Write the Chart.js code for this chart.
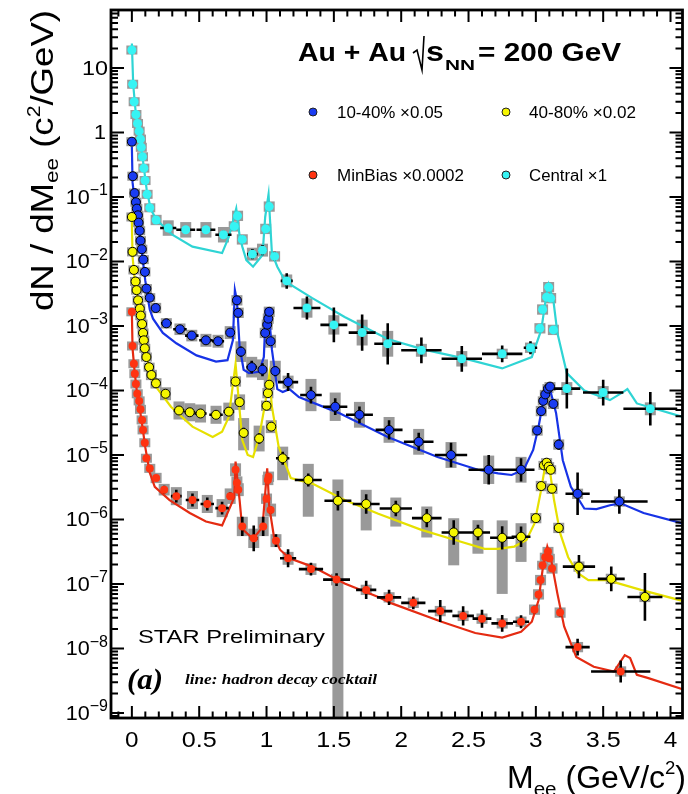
<!DOCTYPE html>
<html>
<head>
<meta charset="utf-8">
<title>STAR Au+Au dielectron mass spectra</title>
<script src="https://cdn.jsdelivr.net/npm/chart.js@4.4.1/dist/chart.umd.min.js"></script>
<style>
  html, body { margin: 0; padding: 0; background: #fff; }
  canvas { display: block; }
</style>
</head>
<body>
<canvas id="massChart" width="688" height="794"></canvas>
<script>
// ---- axis ticks ----
const xTickValues = [0, 0.5, 1, 1.5, 2, 2.5, 3, 3.5, 4];
const yDecades = [-9, -8, -7, -6, -5, -4, -3, -2, -1, 0, 1];

// ---- Central x1 (cyan) ----
const centralMass = [0.000, 0.006, 0.017, 0.030, 0.042, 0.054, 0.064, 0.070, 0.079, 0.089, 0.098, 0.113, 0.133,
  0.180, 0.270, 0.400, 0.550, 0.680, 0.760, 0.785, 0.820, 0.895, 0.970, 0.994, 1.020, 1.060, 1.150,
  1.300, 1.500, 1.710, 1.900, 2.150, 2.450, 2.750, 2.960, 3.030, 3.050, 3.080, 3.095, 3.110, 3.130,
  3.230, 3.500, 3.850];
const centralYield = [19, 5.6, 3.0, 1.9, 1.38, 1.05, 0.79, 0.59, 0.42, 0.28, 0.18, 0.11, 0.068,
  0.044, 0.033, 0.031, 0.031, 0.026, 0.035, 0.051, 0.022, 0.013, 0.015, 0.032, 0.071, 0.012, 0.005,
  0.0019, 0.00104, 0.00079, 0.00053, 0.00042, 0.00031, 0.00037, 0.00046, 0.00092, 0.0018, 0.0028, 0.0040, 0.0027, 0.00087,
  0.000107, 0.000093, 0.000052];
const centralMassErr = [0.003, 0.003, 0.004, 0.004, 0.004, 0.004, 0.004, 0.004, 0.004, 0.004, 0.005, 0.007, 0.01,
  0.02, 0.06, 0.07, 0.07, 0.06, 0.01, 0.01, 0.02, 0.04, 0.03, 0.01, 0.01, 0.02, 0.045,
  0.1, 0.1, 0.1, 0.1, 0.15, 0.15, 0.15, 0.05, 0.01, 0.01, 0.01, 0.01, 0.01, 0.01,
  0.1, 0.15, 0.2];
const centralStat = [0.02, 0.02, 0.02, 0.02, 0.02, 0.02, 0.02, 0.02, 0.02, 0.02, 0.02, 0.02, 0.02,
  0.03, 0.05, 0.06, 0.06, 0.06, 0.05, 0.05, 0.06, 0.08, 0.08, 0.05, 0.05, 0.07, 0.12,
  0.18, 0.27, 0.28, 0.32, 0.2, 0.2, 0.13, 0.1, 0.06, 0.06, 0.06, 0.06, 0.06, 0.06,
  0.31, 0.2, 0.26];
const centralSys = [0.07, 0.07, 0.07, 0.07, 0.07, 0.07, 0.07, 0.07, 0.07, 0.07, 0.07, 0.07, 0.07,
  0.08, 0.12, 0.12, 0.12, 0.12, 0.08, 0.08, 0.08, 0.1, 0.1, 0.08, 0.08, 0.08, 0.1,
  0.15, 0.15, 0.2, 0.2, 0.1, 0.12, 0.08, 0.08, 0.08, 0.08, 0.08, 0.08, 0.08, 0.08,
  0.1, 0.1, 0.1];
const centralCocktailMass = [0.0, 0.01, 0.03, 0.05, 0.08, 0.11, 0.14, 0.18, 0.30, 0.45,
  0.67, 0.72, 0.775, 0.80, 0.82, 0.85, 0.90, 0.97, 0.99, 1.015,
  1.04, 1.08, 1.14, 1.34, 1.58, 1.90, 2.17, 2.45, 2.75, 2.97,
  3.04, 3.08, 3.095, 3.13, 3.16, 3.23, 3.36, 3.55, 3.65, 3.68,
  3.71, 3.75, 4.09];
const centralCocktailYield = [24, 5.5, 1.9, 1.1, 0.4, 0.13, 0.065, 0.045, 0.026, 0.017,
  0.0135, 0.024, 0.066, 0.025, 0.017, 0.0105, 0.0083, 0.0126, 0.049, 0.11,
  0.0135, 0.0083, 0.0049, 0.0027, 0.00138, 0.00063, 0.00043, 0.00032, 0.00022, 0.00033,
  0.00087, 0.0032, 0.0044, 0.0025, 0.00078, 0.000186, 0.0001, 0.000071, 0.000095, 0.000105,
  0.000085, 0.000063, 0.000039];

// ---- 10-40% x0.05 (blue) ----
const midMass = [0.000, 0.007, 0.020, 0.030, 0.037, 0.045, 0.050, 0.058, 0.064, 0.074,
  0.085, 0.097, 0.108, 0.133, 0.177, 0.256, 0.357, 0.445, 0.550, 0.640,
  0.730, 0.780, 0.790, 0.810, 0.890, 0.970, 0.990, 1.005, 1.013, 1.020,
  1.030, 1.065, 1.160, 1.330, 1.510, 1.690, 1.910, 2.130, 2.370, 2.650,
  2.890, 3.010, 3.040, 3.055, 3.070, 3.090, 3.105, 3.130, 3.170, 3.310, 3.620];
const midYield = [0.72, 0.21, 0.115, 0.083, 0.066, 0.052, 0.040, 0.030, 0.021, 0.0155,
  0.0107, 0.0069, 0.0038, 0.00275, 0.0019, 0.0011, 0.00089, 0.00071, 0.00060, 0.00058,
  0.00079, 0.0025, 0.0016, 0.00040, 0.00023, 0.00021, 0.00078, 0.00105, 0.0013, 0.00166,
  0.00058, 0.00020, 0.000135, 0.000085, 0.000056, 0.000042, 0.0000245, 0.000016, 0.000010, 0.0000059,
  0.0000059, 0.000024, 0.000048, 0.000069, 0.000087, 0.000107, 0.000115, 0.000062, 0.0000145, 0.0000025, 0.0000019];
const midMassErr = [0.003, 0.003, 0.003, 0.003, 0.003, 0.003, 0.003, 0.003, 0.003, 0.004,
  0.005, 0.005, 0.006, 0.01, 0.02, 0.04, 0.05, 0.05, 0.05, 0.045,
  0.03, 0.01, 0.01, 0.02, 0.04, 0.03, 0.01, 0.005, 0.005, 0.005,
  0.01, 0.02, 0.075, 0.08, 0.09, 0.1, 0.1, 0.11, 0.12, 0.15,
  0.1, 0.01, 0.01, 0.005, 0.005, 0.005, 0.005, 0.01, 0.01, 0.09, 0.21];
const midStat = [0.02, 0.02, 0.02, 0.02, 0.02, 0.02, 0.02, 0.02, 0.02, 0.02,
  0.02, 0.02, 0.02, 0.03, 0.03, 0.04, 0.04, 0.05, 0.06, 0.06,
  0.05, 0.04, 0.04, 0.08, 0.1, 0.1, 0.05, 0.05, 0.04, 0.04,
  0.06, 0.08, 0.14, 0.13, 0.13, 0.13, 0.15, 0.14, 0.19, 0.23,
  0.18, 0.06, 0.05, 0.04, 0.04, 0.04, 0.04, 0.05, 0.08, 0.33, 0.19];
const midSys = [0.07, 0.07, 0.07, 0.07, 0.07, 0.07, 0.07, 0.07, 0.07, 0.07,
  0.07, 0.07, 0.07, 0.07, 0.08, 0.08, 0.09, 0.09, 0.1, 0.1,
  0.1, 0.08, 0.08, 0.16, 0.16, 0.16, 0.08, 0.08, 0.08, 0.08,
  0.1, 0.16, 0.1, 0.25, 0.22, 0.2, 0.2, 0.2, 0.2, 0.22,
  0.2, 0.08, 0.08, 0.07, 0.07, 0.07, 0.07, 0.08, 0.08, 0.08, 0.08];
const midCocktailMass = [0.0, 0.005, 0.02, 0.04, 0.06, 0.08, 0.10, 0.12, 0.133, 0.157,
  0.23, 0.33, 0.48, 0.625, 0.71, 0.75, 0.765, 0.78, 0.80, 0.83,
  0.87, 0.945, 0.98, 0.995, 1.015, 1.04, 1.08, 1.12, 1.17, 1.24,
  1.535, 1.90, 2.27, 2.57, 2.72, 2.82, 2.91, 2.98, 3.02, 3.05,
  3.09, 3.10, 3.15, 3.20, 3.26, 3.36, 3.45, 3.55, 3.63, 3.80, 4.09];
const midCocktailYield = [0.6, 0.17, 0.09, 0.05, 0.025, 0.011, 0.005, 0.0026, 0.0018, 0.0013,
  0.00078, 0.00054, 0.00035, 0.00028, 0.000295, 0.0006, 0.0036, 0.0025, 0.00048, 0.00021,
  0.000186, 0.000195, 0.00033, 0.0018, 0.00186, 0.00043, 0.000105, 0.000095, 0.000105, 0.000079,
  0.000045, 0.000019, 0.0000093, 0.0000059, 0.0000052, 0.0000049, 0.0000059, 0.000012, 0.0000275, 0.00006,
  0.000115, 0.000115, 0.000045, 0.0000083, 0.0000032, 0.00000148, 0.00000145, 0.00000166, 0.00000178, 0.00000126, 8.7e-7];

// ---- 40-80% x0.02 (yellow) ----
const periMass = [0.000, 0.005, 0.015, 0.027, 0.035, 0.046, 0.059, 0.066, 0.076, 0.083,
  0.089, 0.096, 0.108, 0.128, 0.145, 0.179, 0.250, 0.350, 0.430, 0.510,
  0.625, 0.720, 0.770, 0.800, 0.830, 0.945, 1.000, 1.010, 1.020, 1.035,
  1.120, 1.310, 1.530, 1.740, 1.960, 2.190, 2.390, 2.570, 2.750, 2.890,
  3.000, 3.040, 3.060, 3.080, 3.095, 3.110, 3.120, 3.170, 3.320, 3.560, 3.810];
const periYield = [0.049, 0.0141, 0.0074, 0.0049, 0.0036, 0.0025, 0.00186, 0.00145, 0.00107, 0.00078,
  0.00060, 0.00045, 0.00033, 0.00023, 0.000174, 0.000129, 0.000089, 0.000049, 0.000046, 0.000044,
  0.000042, 0.000047, 0.000138, 0.000066, 0.000022, 0.000018, 0.000058, 0.000091, 0.000123, 0.0000275,
  0.0000089, 0.0000041, 0.00000195, 0.00000174, 0.00000148, 0.00000105, 6.3e-7, 6.3e-7, 5.2e-7, 5.4e-7,
  1.05e-6, 3.3e-6, 6.9e-6, 7.6e-6, 6.6e-6, 5.9e-6, 3.0e-6, 7.4e-7, 1.86e-7, 1.2e-7, 6.3e-8];
const periMassErr = [0.003, 0.003, 0.003, 0.003, 0.003, 0.003, 0.003, 0.003, 0.003, 0.003,
  0.003, 0.004, 0.005, 0.006, 0.007, 0.01, 0.03, 0.04, 0.04, 0.045,
  0.05, 0.04, 0.01, 0.015, 0.03, 0.03, 0.005, 0.005, 0.005, 0.01,
  0.05, 0.1, 0.1, 0.1, 0.12, 0.11, 0.09, 0.09, 0.09, 0.07,
  0.01, 0.01, 0.005, 0.005, 0.005, 0.005, 0.005, 0.01, 0.12, 0.1, 0.13];
const periStat = [0.02, 0.02, 0.02, 0.02, 0.02, 0.02, 0.02, 0.02, 0.02, 0.02,
  0.02, 0.02, 0.02, 0.02, 0.03, 0.03, 0.04, 0.05, 0.05, 0.05,
  0.05, 0.05, 0.05, 0.06, 0.08, 0.08, 0.05, 0.05, 0.05, 0.06,
  0.1, 0.1, 0.15, 0.15, 0.12, 0.14, 0.19, 0.12, 0.18, 0.16,
  0.06, 0.05, 0.04, 0.04, 0.04, 0.04, 0.05, 0.06, 0.18, 0.19, 0.37];
const periSys = [0.07, 0.07, 0.07, 0.07, 0.07, 0.07, 0.07, 0.07, 0.07, 0.07,
  0.07, 0.07, 0.07, 0.07, 0.08, 0.08, 0.1, 0.14, 0.14, 0.14,
  0.14, 0.14, 0.08, 0.12, 0.23, 0.2, 0.08, 0.08, 0.08, 0.1,
  0.18, 0.25, 0.33, 0.22, 0.17, 0.18, 0.22, 0.19, 0.27, 0.21,
  0.08, 0.08, 0.07, 0.07, 0.07, 0.07, 0.08, 0.08, 0.08, 0.08, 0.08];
const periSysDown = [0.07, 0.07, 0.07, 0.07, 0.07, 0.07, 0.07, 0.07, 0.07, 0.07,
  0.07, 0.07, 0.07, 0.07, 0.08, 0.08, 0.1, 0.14, 0.14, 0.14,
  0.14, 0.14, 0.08, 0.12, 0.27, 0.2, 0.08, 0.08, 0.08, 0.1,
  0.34, 0.57, 9, 0.41, 0.28, 0.3, 0.51, 0.33, 0.87, 0.39,
  0.08, 0.08, 0.07, 0.07, 0.07, 0.07, 0.08, 0.08, 0.08, 0.08, 0.08];
const periCocktailMass = [0.0, 0.005, 0.02, 0.04, 0.06, 0.083, 0.133, 0.157, 0.29, 0.45,
  0.60, 0.67, 0.72, 0.77, 0.80, 0.82, 0.86, 0.90, 0.945, 0.99,
  1.02, 1.04, 1.09, 1.18, 1.34, 1.58, 1.83, 2.15, 2.40, 2.62,
  2.72, 2.84, 2.93, 2.99, 3.035, 3.07, 3.10, 3.135, 3.18, 3.24,
  3.31, 3.39, 3.53, 3.78, 4.10];
const periCocktailYield = [0.041, 0.012, 0.0055, 0.0028, 0.0015, 0.00055, 0.00021, 0.000132, 0.000056, 0.0000275,
  0.000019, 0.000023, 0.000039, 0.00026, 0.00005, 0.000017, 0.00001, 0.0000093, 0.000019, 0.000063,
  0.000174, 0.000056, 0.0000135, 0.0000044, 0.0000036, 0.000002, 0.00000123, 6.9e-7, 4.8e-7, 3.5e-7,
  3.5e-7, 3.8e-7, 4.8e-7, 8.7e-7, 0.0000026, 0.0000069, 0.0000066, 0.000002, 6.2e-7, 2.6e-7,
  1.48e-7, 1.15e-7, 1.15e-7, 8.1e-8, 5.4e-8];

// ---- MinBias x0.0002 (red) ----
const minbiasMass = [0.000, 0.005, 0.015, 0.022, 0.030, 0.040, 0.054, 0.064, 0.076, 0.083,
  0.096, 0.108, 0.133, 0.180, 0.240, 0.330, 0.450, 0.560, 0.670, 0.730,
  0.770, 0.780, 0.790, 0.820, 0.905, 0.975, 1.000, 1.010, 1.015, 1.030,
  1.070, 1.160, 1.330, 1.520, 1.740, 1.910, 2.090, 2.290, 2.460, 2.600,
  2.750, 2.890, 2.990, 3.020, 3.035, 3.050, 3.070, 3.090, 3.100, 3.120, 3.180, 3.310, 3.630];
const minbiasYield = [1.66e-3, 4.9e-4, 2.6e-4, 1.82e-4, 1.26e-4, 8.9e-5, 6.9e-5, 5.1e-5, 3.5e-5, 2.45e-5,
  1.55e-5, 8.9e-6, 6.2e-6, 4.4e-6, 2.9e-6, 2.3e-6, 2.0e-6, 1.74e-6, 1.5e-6, 2.3e-6,
  5.9e-6, 3.7e-6, 2.9e-6, 7.8e-7, 5.1e-7, 7.8e-7, 2.1e-6, 4.1e-6, 4.6e-6, 1.4e-6,
  4.7e-7, 2.5e-7, 1.7e-7, 1.17e-7, 8.1e-8, 6.2e-8, 5.1e-8, 3.8e-8, 3.2e-8, 2.9e-8,
  2.45e-8, 2.6e-8, 4.0e-8, 6.9e-8, 1.15e-7, 1.95e-7, 2.6e-7, 3.2e-7, 2.5e-7, 1.74e-7, 3.6e-8, 1.05e-8, 4.4e-9];
const minbiasMassErr = [0.003, 0.003, 0.003, 0.003, 0.003, 0.003, 0.003, 0.003, 0.003, 0.003,
  0.003, 0.004, 0.006, 0.01, 0.02, 0.04, 0.05, 0.05, 0.05, 0.02,
  0.01, 0.01, 0.01, 0.02, 0.03, 0.02, 0.005, 0.005, 0.005, 0.01,
  0.02, 0.06, 0.09, 0.1, 0.075, 0.09, 0.09, 0.09, 0.08, 0.07,
  0.08, 0.06, 0.01, 0.01, 0.005, 0.005, 0.005, 0.005, 0.005, 0.01, 0.01, 0.09, 0.22];
const minbiasStat = [0.02, 0.02, 0.02, 0.02, 0.02, 0.02, 0.02, 0.02, 0.02, 0.02,
  0.02, 0.02, 0.03, 0.04, 0.06, 0.1, 0.1, 0.1, 0.1, 0.06,
  0.05, 0.05, 0.05, 0.15, 0.2, 0.15, 0.05, 0.05, 0.05, 0.06,
  0.1, 0.14, 0.1, 0.1, 0.14, 0.12, 0.1, 0.17, 0.15, 0.14,
  0.13, 0.1, 0.06, 0.05, 0.04, 0.04, 0.04, 0.04, 0.04, 0.05, 0.06, 0.13, 0.17];
const minbiasSys = [0.07, 0.07, 0.07, 0.07, 0.07, 0.07, 0.07, 0.07, 0.07, 0.07,
  0.07, 0.07, 0.07, 0.08, 0.09, 0.14, 0.14, 0.14, 0.14, 0.12,
  0.1, 0.1, 0.1, 0.15, 0.15, 0.15, 0.08, 0.08, 0.08, 0.1,
  0.1, 0.1, 0.09, 0.09, 0.08, 0.08, 0.08, 0.08, 0.08, 0.08,
  0.08, 0.08, 0.08, 0.08, 0.08, 0.07, 0.07, 0.07, 0.07, 0.08, 0.08, 0.08, 0.08];
const minbiasCocktailMass = [0.0, 0.005, 0.02, 0.04, 0.06, 0.08, 0.10, 0.133, 0.17, 0.28,
  0.43, 0.55, 0.67, 0.76, 0.77, 0.80, 0.82, 0.90, 0.97, 1.005,
  1.02, 1.055, 1.10, 1.17, 1.34, 1.58, 1.83, 1.93, 2.30, 2.55,
  2.75, 2.89, 2.97, 3.02, 3.05, 3.085, 3.11, 3.16, 3.21, 3.30,
  3.43, 3.58, 3.66, 3.70, 3.75, 3.83, 4.10];
const minbiasCocktailYield = [0.0016, 0.00045, 0.0002, 0.000085, 0.00005, 0.000026, 0.000013, 0.0000053, 0.0000032, 0.000002,
  0.00000126, 9.3e-7, 8.1e-7, 0.0000022, 0.0000079, 0.000002, 7.1e-7, 5e-7, 7.6e-7, 0.0000062,
  0.0000016, 5.4e-7, 3.4e-7, 2.5e-7, 1.86e-7, 1.02e-7, 6.3e-8, 5e-8, 2.6e-8, 1.74e-8,
  1.48e-8, 1.82e-8, 2.6e-8, 5.6e-8, 1.66e-7, 3.8e-7, 2.6e-7, 7.1e-8, 2.2e-8, 7.4e-9,
  5.2e-9, 4.4e-9, 7.9e-9, 7.1e-9, 3.9e-9, 3.5e-9, 2.3e-9];

const SANS = "'Liberation Sans', Arial, Helvetica, sans-serif";
const SERIF = "'Liberation Serif', 'Times New Roman', serif";

const series = [
  { label: "MinBias \u00d70.0002", mass: minbiasMass, val: minbiasYield, dm: minbiasMassErr, stat: minbiasStat, sys: minbiasSys,
    cmass: minbiasCocktailMass, cval: minbiasCocktailYield, fill: "#ff3311", line: "#e42b12", edge: "#ff3311", edgeW: 0, r: 4 },
  { label: "40-80% \u00d70.02", mass: periMass, val: periYield, dm: periMassErr, stat: periStat, sys: periSys, sysDown: periSysDown,
    cmass: periCocktailMass, cval: periCocktailYield, fill: "#f6f600", line: "#e6e000", edge: "#000", edgeW: 1, r: 4.5 },
  { label: "10-40% \u00d70.05", mass: midMass, val: midYield, dm: midMassErr, stat: midStat, sys: midSys,
    cmass: midCocktailMass, cval: midCocktailYield, fill: "#1a3cf2", line: "#1733e6", edge: "#000", edgeW: 1, r: 4.5 },
  { label: "Central \u00d71", mass: centralMass, val: centralYield, dm: centralMassErr, stat: centralStat, sys: centralSys,
    cmass: centralCocktailMass, cval: centralCocktailYield, fill: "#36f4f4", line: "#2fd4d4", edge: "#36f4f4", edgeW: 0, r: 4.5 }
];

const datasets = [];
series.forEach(s => {
  datasets.push({
    type: "line",
    data: s.cmass.map((m, i) => ({ x: m, y: s.cval[i] })),
    borderColor: s.line, borderWidth: 2.2, pointRadius: 0, tension: 0, fill: false, order: 2
  });
});
series.forEach(s => {
  datasets.push({
    type: "scatter",
    data: s.mass.map((m, i) => ({ x: m, y: s.val[i] })),
    pointRadius: s.r, pointBackgroundColor: s.fill, pointBorderColor: s.edge, pointBorderWidth: s.edgeW,
    showLine: false, order: 1, series: s
  });
});

function clipArea(ctx, a) {
  ctx.beginPath();
  ctx.rect(a.left, a.top, a.right - a.left, a.bottom - a.top);
  ctx.clip();
}

// draw a string squeezed/stretched to a given width
function fitText(ctx, str, x, y, font, width, align) {
  ctx.font = font;
  const w = ctx.measureText(str).width;
  const s = width ? width / w : 1;
  ctx.save();
  ctx.translate(x, y);
  ctx.scale(s, 1);
  ctx.textAlign = align || "left";
  ctx.fillText(str, 0, 0);
  ctx.restore();
  return w * s;
}

// pieces: [text, fontSize, baselineShift]
function drawPieces(ctx, pieces, weight, totalWidth) {
  let natural = 0;
  pieces.forEach(p => { ctx.font = weight + p[1] + "px " + SANS; natural += ctx.measureText(p[0]).width; });
  const k = totalWidth / natural;
  let u = 0;
  pieces.forEach(p => {
    ctx.font = weight + p[1] + "px " + SANS;
    const w = ctx.measureText(p[0]).width;
    ctx.save();
    ctx.translate(u, p[2]);
    ctx.scale(k, 1);
    ctx.fillText(p[0], 0, 0);
    ctx.restore();
    u += w * k;
  });
}

const starFigure = {
  id: "starFigure",
  beforeDatasetsDraw(chart) {
    const { ctx, chartArea: a, scales: { x, y } } = chart;
    ctx.save();
    clipArea(ctx, a);
    ctx.fillStyle = "#999999";
    series.forEach(s => {
      const down = s.sysDown || s.sys;
      s.mass.forEach((m, i) => {
        const px = x.getPixelForValue(m);
        const top = y.getPixelForValue(s.val[i] * Math.pow(10, s.sys[i]));
        const bot = y.getPixelForValue(s.val[i] / Math.pow(10, down[i]));
        ctx.fillRect(px - 5.5, top, 11, bot - top);
      });
    });
    ctx.restore();
  },
  beforeDatasetDraw(chart, args) {
    const s = chart.data.datasets[args.index].series;
    if (!s) return;
    const { ctx, chartArea: a, scales: { x, y } } = chart;
    ctx.save();
    clipArea(ctx, a);
    ctx.strokeStyle = "#000";
    ctx.lineWidth = 2.6;
    ctx.beginPath();
    s.mass.forEach((m, i) => {
      const px = x.getPixelForValue(m);
      const py = y.getPixelForValue(s.val[i]);
      const k = Math.pow(10, s.stat[i]);
      ctx.moveTo(x.getPixelForValue(m - s.dm[i]), py);
      ctx.lineTo(x.getPixelForValue(m + s.dm[i]), py);
      ctx.moveTo(px, y.getPixelForValue(s.val[i] * k));
      ctx.lineTo(px, y.getPixelForValue(s.val[i] / k));
    });
    ctx.stroke();
    ctx.restore();
  },
  afterDraw(chart) {
    const { ctx, chartArea: a, scales: { x, y } } = chart;
    ctx.save();
    ctx.strokeStyle = "#000";
    ctx.fillStyle = "#000";

    // ticks
    ctx.lineWidth = 2;
    ctx.beginPath();
    for (let k = -1; k <= 41; k++) {
      const px = x.getPixelForValue(k / 10);
      if (px < a.left + 1 || px > a.right - 1) continue;
      const len = k % 5 === 0 ? 12 : 6.5;
      ctx.moveTo(px, a.bottom); ctx.lineTo(px, a.bottom - len);
      ctx.moveTo(px, a.top); ctx.lineTo(px, a.top + len);
    }
    for (let n = -10; n <= 1; n++) {
      for (let m = 1; m <= 9; m++) {
        const v = m * Math.pow(10, n);
        if (v < y.min || v > y.max) continue;
        const py = y.getPixelForValue(v);
        const len = m === 1 ? 13 : 7;
        ctx.moveTo(a.left, py); ctx.lineTo(a.left + len, py);
        ctx.moveTo(a.right, py); ctx.lineTo(a.right - len, py);
      }
    }
    ctx.stroke();
    ctx.lineWidth = 2.8;
    ctx.strokeRect(a.left, a.top, a.right - a.left, a.bottom - a.top);

    // x tick labels
    ctx.textBaseline = "middle";
    xTickValues.forEach(v => {
      const px = x.getPixelForValue(v);
      const str = String(v);
      fitText(ctx, str, px, 741, "22px " + SANS, str.length > 1 ? 35 : 13.5, "center");
    });

    // y tick labels
    yDecades.forEach(n => {
      const py = y.getPixelForValue(Math.pow(10, n));
      const right = 108;
      if (n === 0) { fitText(ctx, "1", right - 2, py + 1, "21px " + SANS, 12, "right"); return; }
      if (n === 1) { fitText(ctx, "10", right, py + 1, "21px " + SANS, 26, "right"); return; }
      const sup = "\u2212" + Math.abs(n);
      ctx.font = "16px " + SANS;
      const ws = ctx.measureText(sup).width;
      fitText(ctx, sup, right, py - 6, "16px " + SANS, 0, "right");
      fitText(ctx, "10", right - ws, py + 1, "21px " + SANS, 24, "right");
    });

    // axis titles
    ctx.textBaseline = "alphabetic";
    ctx.save();
    ctx.translate(53, 311);
    ctx.rotate(-Math.PI / 2);
    drawPieces(ctx, [["dN / dM", 31, 0], ["ee", 19, 5], [" (c", 31, 0], ["2", 18, -13], ["/GeV)", 31, 0]], "", 301);
    ctx.restore();
    ctx.save();
    ctx.translate(507, 788);
    drawPieces(ctx, [["M", 31, 0], ["ee", 20, 8], [" (GeV/c", 31, 0], ["2", 18, -14], [")", 31, 0]], "", 179);
    ctx.restore();

    // header
    fitText(ctx, "Au + Au", 298, 61, "bold 26px " + SANS, 108);
    ctx.lineWidth = 1.6;
    ctx.beginPath();
    ctx.moveTo(413, 53); ctx.lineTo(417, 50); ctx.lineTo(422, 70); ctx.lineTo(424, 36);
    ctx.stroke();
    fitText(ctx, "s", 426, 61, "bold 27px " + SANS, 18);
    fitText(ctx, "NN", 445, 70, "bold 15px " + SANS, 30);
    fitText(ctx, "= 200 GeV", 478, 61, "bold 26px " + SANS, 143);

    // legend
    const legend = [
      { s: series[2], mx: 313, my: 112, tx: 337, w: 106 },
      { s: series[1], mx: 506, my: 112, tx: 529, w: 107 },
      { s: series[0], mx: 313, my: 175, tx: 337, w: 127 },
      { s: series[3], mx: 506, my: 175, tx: 529, w: 78 }
    ];
    legend.forEach(e => {
      ctx.beginPath();
      ctx.arc(e.mx, e.my, 4, 0, Math.PI * 2);
      ctx.fillStyle = e.s.fill;
      ctx.fill();
      ctx.lineWidth = 1;
      ctx.strokeStyle = "#222";
      ctx.stroke();
      ctx.fillStyle = "#000";
      fitText(ctx, e.s.label, e.tx, e.my + 6, "16px " + SANS, e.w);
    });

    // notes
    fitText(ctx, "STAR Preliminary", 138, 643, "19px " + SANS, 187);
    fitText(ctx, "(a)", 127, 689, "bold italic 29px " + SERIF, 36);
    fitText(ctx, "line: hadron decay cocktail", 185, 684, "bold italic 14px " + SERIF, 192);
    ctx.restore();
  }
};

new Chart(document.getElementById("massChart").getContext("2d"), {
  type: "scatter",
  data: { datasets },
  options: {
    responsive: false,
    animation: false,
    events: [],
    layout: { padding: { left: 111, top: 10, right: 2, bottom: 76 } },
    plugins: { legend: { display: false }, tooltip: { enabled: false } },
    scales: {
      x: { type: "linear", min: -0.155, max: 4.089, display: false },
      y: { type: "logarithmic", min: 8.36e-10, max: 79.3, display: false }
    }
  },
  plugins: [starFigure]
});
</script>
</body>
</html>
